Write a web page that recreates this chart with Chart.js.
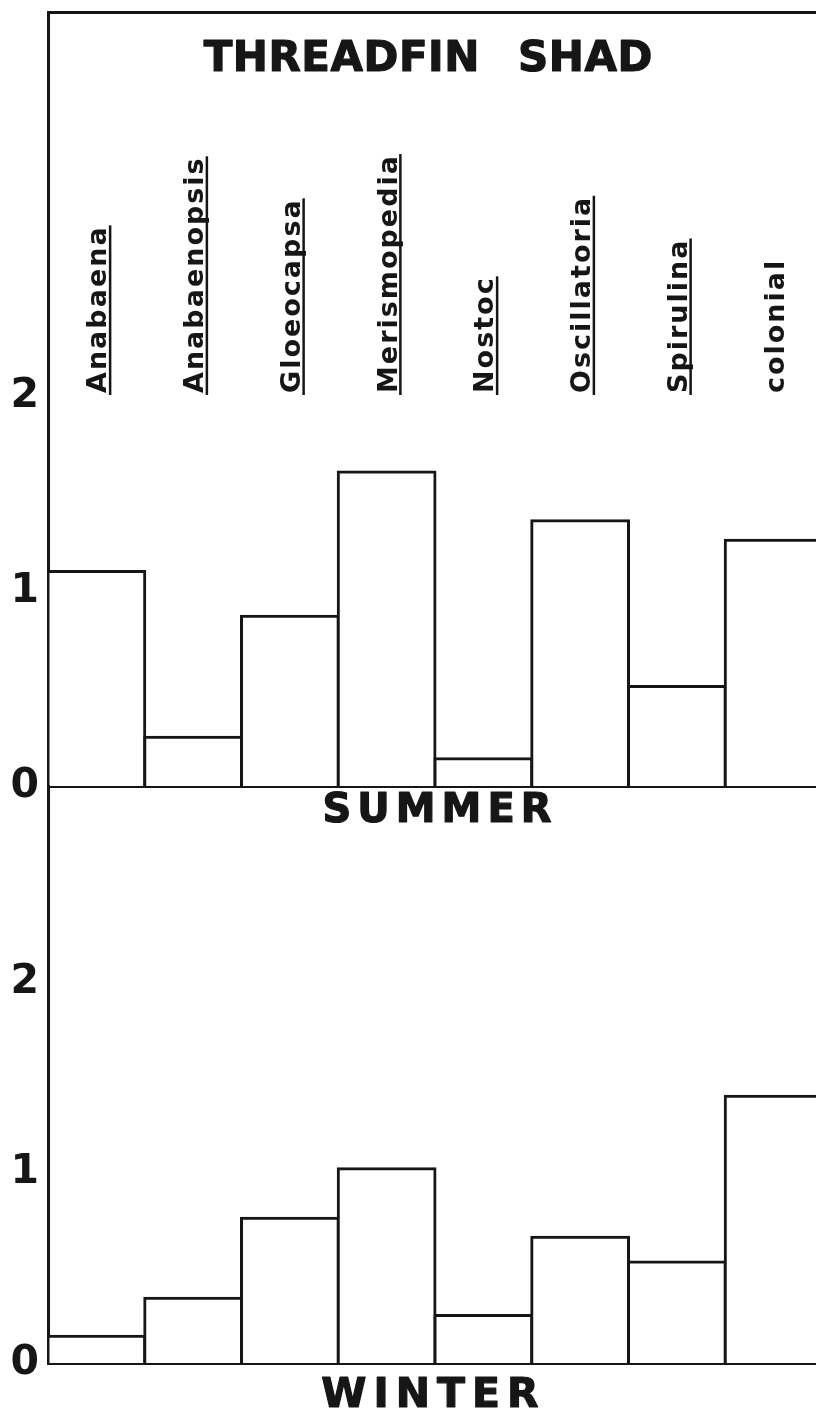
<!DOCTYPE html>
<html>
<head>
<meta charset="utf-8">
<script src="https://cdn.jsdelivr.net/npm/chart.js@4.4.1/dist/chart.umd.min.js"></script>
<style>
  html, body { margin: 0; padding: 0; background: #fff; overflow: hidden; }
  #wrap { position: relative; width: 816px; height: 1410px; overflow: hidden; background: #fff; }
  canvas { position: absolute; left: 0; }
  #summer { top: 0; }
  #winter { top: 740px; }
</style>
</head>
<body>
<div id="wrap">
  <canvas id="summer" width="832" height="830"></canvas>
  <canvas id="winter" width="832" height="670"></canvas>
</div>
<script>
// Blue-green algae genera found in threadfin shad stomachs
const chartTitle = 'THREADFIN SHAD';
const categories = ['Anabaena', 'Anabaenopsis', 'Gloeocapsa', 'Merismopedia',
                    'Nostoc', 'Oscillatoria', 'Spirulina', 'colonial'];
const underlined = [true, true, true, true, true, true, true, false];
const summerValues = [1.10, 0.25, 0.87, 1.61, 0.14, 1.36, 0.51, 1.26];
const winterValues = [0.14, 0.34, 0.76, 1.02, 0.25, 0.66, 0.53, 1.40];
const yTickValues = [0, 1, 2];
const seasonNames = ['SUMMER', 'WINTER'];

const INK = '#161616';
const FAMILY = '"DejaVu Sans", "Liberation Sans", sans-serif';

// draw text with extra tracking, centred on cx (tracking excluded from the trailing edge)
function trackedText(ctx, text, cx, y, size, spacing, wordGap, weightStroke) {
  ctx.save();
  ctx.font = 'bold ' + size + 'px ' + FAMILY;
  ctx.fillStyle = INK;
  ctx.strokeStyle = INK;
  ctx.lineJoin = 'round';
  ctx.textAlign = 'left';
  ctx.textBaseline = 'alphabetic';
  ctx.letterSpacing = '0px';
  ctx.wordSpacing = '0px';
  const base = ctx.measureText(text).width;
  const spaces = (text.match(/ /g) || []).length;
  const total = base + spacing * (text.length - 1) + (wordGap || 0) * spaces;
  ctx.letterSpacing = spacing + 'px';
  ctx.wordSpacing = (wordGap || 0) + 'px';
  ctx.fillText(text, cx - total / 2, y);
  if (weightStroke) {
    ctx.lineWidth = weightStroke;
    ctx.strokeText(text, cx - total / 2, y);
  }
  ctx.restore();
}

const summerDecor = {
  id: 'summerDecor',
  afterDraw(chart) {
    const { ctx, chartArea, scales } = chart;
    const cx = (chartArea.left + chartArea.right) / 2;
    trackedText(ctx, chartTitle, cx - 7, chartArea.top + 59, 42, 0.5, 23, 1.2);
    trackedText(ctx, seasonNames[0], cx + 2, chartArea.bottom + 36, 40, 6, 0, 1.2);

    // genus names, rotated, standing on the level of the "2" tick
    const yBase = scales.y.getPixelForValue(2) - 3;
    ctx.save();
    ctx.fillStyle = INK;
    ctx.font = 'bold 27px ' + FAMILY;
    ctx.textAlign = 'left';
    ctx.textBaseline = 'alphabetic';
    categories.forEach((name, i) => {
      const px = scales.x.getPixelForValue(i);
      ctx.save();
      ctx.translate(px + 10, yBase);
      ctx.rotate(-Math.PI / 2);
      ctx.letterSpacing = '0px';
      const w = ctx.measureText(name).width + 2 * (name.length - 1);
      ctx.letterSpacing = '2px';
      ctx.fillText(name, 0, 0);
      if (underlined[i]) ctx.fillRect(-2, 2.5, w + 4, 2.5);
      ctx.restore();
    });
    ctx.restore();
  }
};

const winterDecor = {
  id: 'winterDecor',
  afterDraw(chart) {
    const { ctx, chartArea } = chart;
    const cx = (chartArea.left + chartArea.right) / 2;
    trackedText(ctx, seasonNames[1], cx - 5, chartArea.bottom + 44, 41, 7, 0, 1.2);
  }
};

function panel(canvasId, values, yMax, padTop, xHeight, withTopRule, decor) {
  const scales = {
    x: {
      type: 'category',
      position: 'bottom',
      z: 1,
      grid: { display: false, drawTicks: false },
      border: { display: true, color: INK, width: 3 },
      ticks: { display: false },
      afterFit: s => { s.height = xHeight; }
    },
    y: {
      min: 0,
      max: yMax,
      afterBuildTicks: s => { s.ticks = yTickValues.map(v => ({ value: v })); },
      grid: { display: false, drawTicks: false },
      border: { display: true, color: INK, width: 3 },
      ticks: {
        padding: 9,
        color: INK,
        autoSkip: false,
        font: { family: FAMILY, weight: 'bold', size: 41 },
        callback: v => String(v)
      },
      afterFit: s => { s.width = 48; s.paddingTop = 0; s.paddingBottom = 0; }
    }
  };
  if (withTopRule) {
    scales.xTop = {
      type: 'category',
      position: 'top',
      grid: { display: false, drawTicks: false },
      border: { display: true, color: INK, width: 3 },
      ticks: { display: false },
      afterFit: s => { s.height = 0; }
    };
  }
  return new Chart(document.getElementById(canvasId), {
    type: 'bar',
    data: {
      labels: categories,
      datasets: [{
        data: values,
        backgroundColor: '#ffffff',
        borderColor: INK,
        borderWidth: 3,
        inflateAmount: 1.5,
        barPercentage: 1,
        categoryPercentage: 1
      }]
    },
    options: {
      responsive: false,
      animation: false,
      events: [],
      layout: { padding: { top: padTop, left: 0, right: 10, bottom: 0 } },
      plugins: { legend: { display: false }, tooltip: { enabled: false }, title: { display: false } },
      scales
    },
    plugins: [decor]
  });
}

// summer: plot box from y=12 to y=786, 195 px per unit
panel('summer', summerValues, (786 - 12) / 195, 12, 44, true, summerDecor);
// winter: plot box from y=786 to y=1363, 190.5 px per unit
panel('winter', winterValues, (1363 - 786) / 190.5, 46, 47, false, winterDecor);
</script>
</body>
</html>
